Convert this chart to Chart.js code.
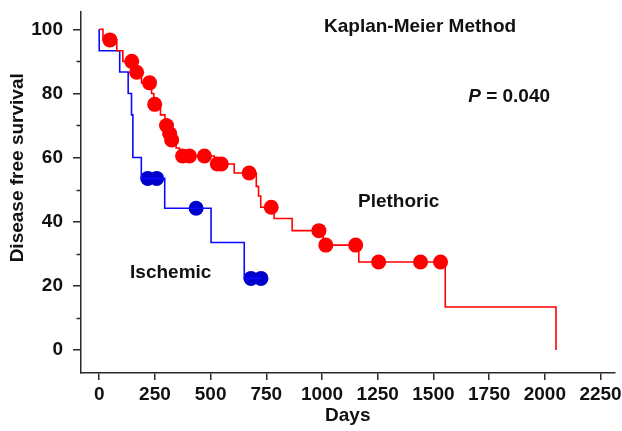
<!DOCTYPE html>
<html>
<head>
<meta charset="utf-8">
<script src="https://cdn.jsdelivr.net/npm/chart.js@4.4.1/dist/chart.umd.min.js"></script>
<style>
  html, body { margin: 0; padding: 0; background: #fff; }
</style>
</head>
<body>
<canvas id="kmChart" width="622" height="431"></canvas>
<script>
// Plethoric curve: day of each step and survival (%) after it
const plethoricDays = [0, 17, 79, 106, 158, 190, 235, 245, 275, 295, 310, 320, 345, 360, 517, 606, 705, 715, 725, 785, 866, 1005, 1165, 1553, 2050];
const plethoricSurvival = [100, 96.7, 93.3, 90, 86.6, 83.3, 80, 76.6, 73.3, 70, 67.5, 65.5, 63, 60.5, 58, 55.2, 51, 48, 44.5, 41, 37.2, 32.7, 27.4, 13.4, 0];
// Plethoric censored cases
const plethoricCensorDays = [48, 146, 168, 226, 249, 302, 316, 325, 374, 405, 472, 530, 548, 673, 772, 986, 1017, 1151, 1254, 1442, 1532];
const plethoricCensorSurvival = [96.7, 90, 86.6, 83.3, 76.6, 70, 67.5, 65.5, 60.5, 60.5, 60.5, 58, 58, 55.2, 44.5, 37.2, 32.7, 32.7, 27.4, 27.4, 27.4];

// Ischemic curve
const ischemicDays = [0, 0, 92, 130, 145, 151, 189, 294, 502, 651, 726];
const ischemicSurvival = [100, 93.3, 86.7, 80, 73.3, 60, 53.5, 44.2, 33.5, 22.3, 22.3];
const ischemicCensorDays = [218, 258, 435, 681, 726];
const ischemicCensorSurvival = [53.5, 53.5, 44.2, 22.3, 22.3];

const xTickValues = [0, 250, 500, 750, 1000, 1250, 1500, 1750, 2000, 2250];
const yTickValues = [0, 20, 40, 60, 80, 100];
const yMinorTicks = [10, 30, 50, 70, 90];

const FONT = '"Liberation Sans", Arial, sans-serif';
const AXIS = '#2b2b2b';

function toPoints(days, vals) {
  return days.map((d, i) => ({ x: d, y: vals[i] }));
}

// minor ticks, y title and text labels inside the plot
const extras = {
  id: 'extras',
  afterDraw(chart) {
    const { ctx, scales: { x, y } } = chart;
    ctx.save();
    ctx.strokeStyle = AXIS;
    ctx.lineWidth = 1.5;
    yMinorTicks.forEach(v => {
      const py = Math.round(y.getPixelForValue(v)) + 0.5;
      ctx.beginPath();
      ctx.moveTo(x.left - 4.5, py);
      ctx.lineTo(x.left, py);
      ctx.stroke();
    });

    ctx.fillStyle = '#111';
    ctx.textBaseline = 'middle';
    ctx.textAlign = 'center';
    ctx.font = 'bold 19px ' + FONT;

    // y axis title, sits a bit above the middle of the axis
    ctx.save();
    ctx.translate(18, y.getPixelForValue(56.8));
    ctx.rotate(-Math.PI / 2);
    ctx.fillText('Disease free survival', 0, 0);
    ctx.restore();

    ctx.fillText('Kaplan-Meier Method', x.getPixelForValue(1440), y.getPixelForValue(100.7));
    ctx.fillText('Plethoric', x.getPixelForValue(1344), y.getPixelForValue(46.1));
    ctx.fillText('Ischemic', x.getPixelForValue(321), y.getPixelForValue(24));

    // P = 0.040 with italic P
    ctx.textAlign = 'left';
    let px = x.getPixelForValue(1656);
    const py = y.getPixelForValue(78.9);
    ctx.font = 'italic bold 19px ' + FONT;
    ctx.fillText('P', px, py);
    px += ctx.measureText('P').width;
    ctx.font = 'bold 19px ' + FONT;
    ctx.fillText(' = 0.040', px, py);
    ctx.restore();
  }
};

const tickFont = { family: FONT, size: 19, weight: 'bold' };

new Chart(document.getElementById('kmChart').getContext('2d'), {
  type: 'line',
  data: {
    datasets: [
      {
        label: 'Plethoric',
        data: toPoints(plethoricDays, plethoricSurvival),
        stepped: 'before',
        borderColor: '#ff0000',
        borderWidth: 1.6,
        pointRadius: 0,
        fill: false
      },
      {
        label: 'Ischemic',
        data: toPoints(ischemicDays, ischemicSurvival),
        stepped: 'before',
        borderColor: '#0a0aff',
        borderWidth: 1.6,
        pointRadius: 0,
        fill: false
      },
      {
        label: 'Plethoric censored',
        data: toPoints(plethoricCensorDays, plethoricCensorSurvival),
        showLine: false,
        pointRadius: 7.5,
        pointBorderWidth: 0,
        pointBackgroundColor: '#ff0000'
      },
      {
        label: 'Ischemic censored',
        data: toPoints(ischemicCensorDays, ischemicCensorSurvival),
        showLine: false,
        pointRadius: 7.5,
        pointBorderWidth: 0,
        pointBackgroundColor: '#0000cc'
      }
    ]
  },
  options: {
    responsive: false,
    animation: false,
    layout: { padding: { top: 12, right: 0, bottom: 0, left: 0 } },
    plugins: {
      legend: { display: false },
      tooltip: { enabled: false }
    },
    scales: {
      x: {
        type: 'linear',
        // Chart.js keeps ~5px on the right for the last label, so max is trimmed to keep 2250 in place
        min: -81.7,
        max: 2312.6,
        afterBuildTicks: s => { s.ticks = xTickValues.map(v => ({ value: v })); },
        afterFit: s => {
          s.height = 58;
          s.paddingLeft = 0;
          s.paddingRight = 0;
        },
        grid: { drawOnChartArea: false, tickLength: 7, color: AXIS, lineWidth: 1.5 },
        border: { color: AXIS, width: 1.5 },
        ticks: { font: tickFont, color: '#111', padding: 3, maxRotation: 0, autoSkip: false, callback: v => String(v) },
        title: { display: true, text: 'Days', color: '#111', font: tickFont, padding: { top: 0, bottom: 4 } }
      },
      y: {
        min: -7.2,
        max: 105.4,
        afterBuildTicks: s => { s.ticks = yTickValues.map(v => ({ value: v })); },
        afterFit: s => {
          s.width = 81;
          s.paddingTop = 0;
          s.paddingBottom = 0;
        },
        grid: { drawOnChartArea: false, tickLength: 8, color: AXIS, lineWidth: 1.5 },
        border: { color: AXIS, width: 1.5 },
        ticks: { font: tickFont, color: '#111', padding: 10, autoSkip: false, callback: v => String(v) }
      }
    }
  },
  plugins: [extras]
});
</script>
</body>
</html>
